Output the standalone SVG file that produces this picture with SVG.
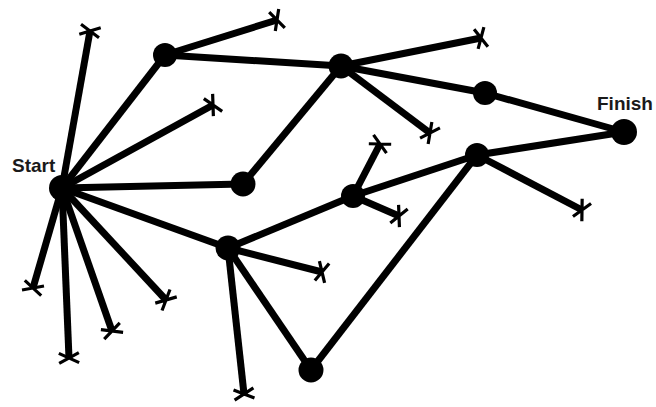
<svg xmlns="http://www.w3.org/2000/svg" xmlns:xlink="http://www.w3.org/1999/xlink" width="656" height="407" viewBox="0 0 656 407">
<style>
.e{stroke:#000;stroke-width:7;fill:none;stroke-linecap:butt}
.n{fill:#000}
.xm{stroke:#000;stroke-width:3.2;fill:none}
.t{font-family:"Liberation Sans",Arial,sans-serif;font-weight:bold;font-size:19px;fill:#1a1a1a}
</style>
<defs>
<path id="xm" class="xm" d="M-5,-10 L5,10 M5,-10 L-5,10"/>
</defs>
<rect width="656" height="407" fill="#fff"/>
<g id="connectors">
<line class="e" x1="62" y1="188" x2="165" y2="55"/>
<line class="e" x1="165" y1="55" x2="341" y2="66"/>
<line class="e" x1="341" y1="66" x2="485" y2="93"/>
<line class="e" x1="485" y1="93" x2="624" y2="132"/>
<line class="e" x1="341" y1="66" x2="243" y2="184"/>
<line class="e" x1="62" y1="188" x2="243" y2="184"/>
<line class="e" x1="62" y1="188" x2="228" y2="248"/>
<line class="e" x1="228" y1="248" x2="353" y2="196"/>
<line class="e" x1="353" y1="196" x2="477" y2="155"/>
<line class="e" x1="477" y1="155" x2="624" y2="132"/>
<line class="e" x1="477" y1="155" x2="311" y2="370"/>
<line class="e" x1="228" y1="248" x2="311" y2="370"/>
<!-- dead ends -->
<line class="e" x1="62" y1="188" x2="90" y2="31"/>
<line class="e" x1="165" y1="55" x2="277" y2="20"/>
<line class="e" x1="62" y1="188" x2="213" y2="105"/>
<line class="e" x1="341" y1="66" x2="481" y2="38"/>
<line class="e" x1="341" y1="66" x2="430" y2="133"/>
<line class="e" x1="353" y1="196" x2="380" y2="144"/>
<line class="e" x1="353" y1="196" x2="399" y2="216"/>
<line class="e" x1="477" y1="155" x2="582" y2="210"/>
<line class="e" x1="228" y1="248" x2="322" y2="272"/>
<line class="e" x1="228" y1="248" x2="244" y2="394"/>
<line class="e" x1="62" y1="188" x2="33" y2="288"/>
<line class="e" x1="62" y1="188" x2="69" y2="358"/>
<line class="e" x1="62" y1="188" x2="112" y2="331"/>
<line class="e" x1="62" y1="188" x2="166" y2="300"/>
<use xlink:href="#xm" transform="translate(90,31) rotate(-80)"/>
<use xlink:href="#xm" transform="translate(277,20) rotate(-17.8)"/>
<use xlink:href="#xm" transform="translate(213,105) rotate(-28.5)"/>
<use xlink:href="#xm" transform="translate(481,38) rotate(-11.6)"/>
<use xlink:href="#xm" transform="translate(430,133) rotate(36.1)"/>
<use xlink:href="#xm" transform="translate(380,144) rotate(-62.1)"/>
<use xlink:href="#xm" transform="translate(399,216) rotate(24.4)"/>
<use xlink:href="#xm" transform="translate(582,210) rotate(27.4)"/>
<use xlink:href="#xm" transform="translate(322,272) rotate(13.2)"/>
<use xlink:href="#xm" transform="translate(244,394) rotate(83.8)"/>
<use xlink:href="#xm" transform="translate(33,288) rotate(106.2)"/>
<use xlink:href="#xm" transform="translate(69,358) rotate(88)"/>
<use xlink:href="#xm" transform="translate(112,331) rotate(70.7)"/>
<use xlink:href="#xm" transform="translate(166,300) rotate(47.4)"/>
</g>
<g id="start"><circle class="n" cx="62" cy="188" r="13"/><text class="t" x="12" y="172">Start</text></g>
<g id="finish"><circle class="n" cx="624" cy="132" r="13"/><text class="t" x="597" y="110">Finish</text></g>
<g id="nA"><circle class="n" cx="165" cy="55" r="12"/></g>
<g id="nB"><circle class="n" cx="341" cy="66" r="12.5"/></g>
<g id="nC"><circle class="n" cx="485" cy="93" r="12"/></g>
<g id="nD"><circle class="n" cx="243" cy="184" r="12.5"/></g>
<g id="nE"><circle class="n" cx="353" cy="196" r="12"/></g>
<g id="nG"><circle class="n" cx="477" cy="155" r="12"/></g>
<g id="nH"><circle class="n" cx="228" cy="248" r="12.5"/></g>
<g id="nI"><circle class="n" cx="311" cy="370" r="12.5"/></g>
</svg>
